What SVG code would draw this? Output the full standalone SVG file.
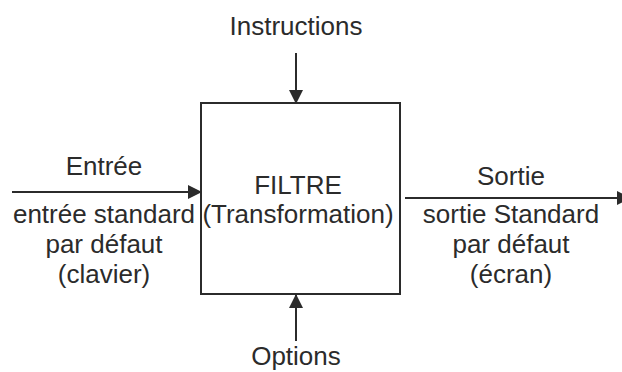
<svg xmlns="http://www.w3.org/2000/svg" width="622" height="372" viewBox="0 0 622 372">
<defs>
<style>
text{font-family:"Liberation Sans",Arial,sans-serif;font-size:26px;fill:#2b2b2b;text-anchor:middle}
.ln{stroke:#2b2b2b;stroke-width:2;fill:none}
.box{stroke:#2b2b2b;stroke-width:2;fill:#fff}
</style>
<marker id="ah" markerWidth="14" markerHeight="14" viewBox="0 0 14 14" refX="13" refY="7" orient="auto" markerUnits="userSpaceOnUse">
<path d="M0,0 L14,7 L0,14 Z" fill="#2b2b2b"/>
</marker>
</defs>
<g id="filtre">
<rect class="box" x="201" y="103" width="199" height="191"/>
<text x="298" y="194">FILTRE</text>
<text x="298" y="223">(Transformation)</text>
</g>
<g id="instructions"><text x="296" y="35">Instructions</text></g>
<g id="options"><text x="296" y="365">Options</text></g>
<g id="entree">
<text x="104" y="175">Entrée</text>
<text x="104" y="223">entrée standard</text>
<text x="104" y="253">par défaut</text>
<text x="104" y="283">(clavier)</text>
</g>
<g id="sortie">
<text x="511" y="185">Sortie</text>
<text x="511" y="223">sortie Standard</text>
<text x="511" y="253">par défaut</text>
<text x="511" y="283">(écran)</text>
</g>
<g id="connectors">
<line class="ln" x1="296" y1="53" x2="296" y2="103" marker-end="url(#ah)"/>
<line class="ln" x1="296" y1="341" x2="296" y2="295" marker-end="url(#ah)"/>
<line class="ln" x1="12" y1="192" x2="201" y2="192" marker-end="url(#ah)"/>
<line class="ln" x1="405" y1="198" x2="630" y2="198" marker-end="url(#ah)"/>
</g>
</svg>
